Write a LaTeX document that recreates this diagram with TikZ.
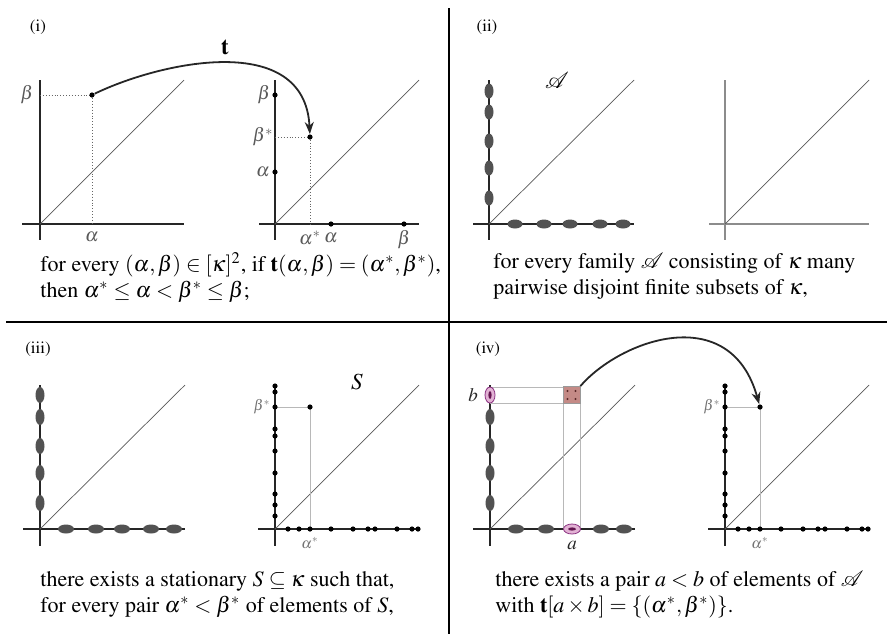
\documentclass[tikz,border=0pt]{standalone}
\usepackage[T1]{fontenc}
\IfFileExists{newtxmath.sty}{\usepackage{newtxmath}}{\usepackage{mathptmx}}
\renewcommand{\rmdefault}{ptm}
\usetikzlibrary{arrows.meta}
\definecolor{pinkfill}{RGB}{226,178,212}
\definecolor{plum}{RGB}{140,50,130}
\definecolor{plumdark}{RGB}{100,20,80}
\definecolor{rosy}{RGB}{196,138,134}
\definecolor{rosydot}{RGB}{90,40,40}

\begin{document}
\begin{tikzpicture}[
  x=0.5pt,y=-0.5pt,
  axis/.style={line width=0.75pt,black!85},
  axisgray/.style={line width=0.75pt,black!45},
  diag/.style={line width=0.35pt,black!65},
  guide/.style={line width=0.45pt,black!60,densely dotted},
  proj/.style={line width=0.45pt,black!28},
  divider/.style={line width=0.8pt,black},
  blob/.style={fill=black!68},
  dotpt/.style={circle,fill=black,inner sep=0pt,minimum size=2.6pt},
  mapto/.style={line width=0.9pt,black!85,-{Stealth[length=6pt,width=4.5pt]}},
  panel/.style={font=\fontsize{8.5}{10}\selectfont},
  lbl/.style={font=\fontsize{9.5}{11}\selectfont,text=black!65,inner sep=1pt},
  smlbl/.style={font=\fontsize{7.5}{9}\selectfont,text=black!55,inner sep=1pt},
  biglbl/.style={font=\fontsize{11.5}{13}\selectfont,inner sep=1pt},
  capt/.style={anchor=base west,inner sep=0pt,font=\fontsize{11}{13}\selectfont},
]
\useasboundingbox (0,0) rectangle (887,634);
\fill[white] (0,0) rectangle (887,634);

% frame of the four panels
\draw[divider] (449,8) -- (449,634);
\draw[divider] (6,322) -- (887,322);

% ============================ (i) ============================
\node[panel] (tag1) at (38,27) {(i)};

% left plot
\draw[axis] (40,80) -- (40,240);
\draw[axis] (22,224) -- (184,224);
\draw[diag] (40,224) -- (184,80);
\draw[guide] (40,95) -- (92,95) -- (92,224);
\node[dotpt] (ab) at (92,95) {};
\node[lbl] (lbeta) at (27,95) {$\beta$};
\node[lbl] (lalpha) at (92,237) {$\alpha$};

% right plot
\draw[axis] (275,80) -- (275,240);
\draw[axis] (259,224) -- (419,224);
\draw[diag] (275,224) -- (419,80);
\draw[guide] (275,137) -- (310,137) -- (310,224);
\node[dotpt] (yb) at (275,95) {};
\node[dotpt] (ya) at (275,172) {};
\node[dotpt] (xa) at (331,224) {};
\node[dotpt] (xb) at (404,224) {};
\node[dotpt] (abstar) at (310,137) {};
\node[lbl] (rbeta) at (264,95) {$\beta$};
\node[lbl] (rbstar) at (263,137) {$\beta^*$};
\node[lbl] (ralpha) at (263,172) {$\alpha$};
\node[lbl] (rastar) at (310,238) {$\alpha^*$};
\node[lbl] (rxalpha) at (331,238) {$\alpha$};
\node[lbl] (rxbeta) at (404,240) {$\beta$};

% the map t
\draw[mapto] (ab) .. controls (160,62) and (305,30) .. (abstar);
\node[biglbl] (tname) at (225,47) {$\mathbf{t}$};

\node[capt] (cap1a) at (40,271)
  {for every $(\alpha,\beta)\in[\kappa]^2$, if $\mathbf{t}(\alpha,\beta)=(\alpha^*,\beta^*)$,};
\node[capt] (cap1b) at (40,297)
  {then $\alpha^*\le\alpha<\beta^*\le\beta$;};

% ============================ (ii) ============================
\node[panel] (tag2) at (487,27) {(ii)};

% left plot: the family A
\draw[axis] (489,80) -- (489,240);
\draw[axis] (473,224) -- (634,224);
\draw[diag] (489,224) -- (634,80);
\foreach \d in {26,56,83,112,133}{
  \fill[blob] (489,224-\d) ellipse [x radius=4.5,y radius=7.5];
}
\foreach \d in {26,55,81,111,134}{
  \fill[blob] (489+\d,224) ellipse [x radius=7.5,y radius=4.5];
}
\node[biglbl] (famA) at (557,80) {$\mathcal{A}$};

% right plot
\draw[axisgray] (725,80) -- (725,240);
\draw[axisgray] (709,224) -- (869,224);
\draw[diag] (725,224) -- (869,80);

\node[capt] (cap2a) at (493,268)
  {for every family $\mathcal{A}$ consisting of $\kappa$ many};
\node[capt] (cap2b) at (493,294)
  {pairwise disjoint finite subsets of $\kappa$,};

% ============================ (iii) ============================
\node[panel] (tag3) at (38,349) {(iii)};

% left plot
\draw[axis] (40,385) -- (40,546);
\draw[axis] (23,529) -- (185,529);
\draw[diag] (40,529) -- (185,385);
\foreach \d in {26,56,83,112,134}{
  \fill[blob] (40,529-\d) ellipse [x radius=4.5,y radius=8];
}
\foreach \d in {26,56,82,111,134}{
  \fill[blob] (40+\d,529) ellipse [x radius=8,y radius=4.5];
}

% right plot: the set S
\draw[axis] (275,385) -- (275,546);
\draw[axis] (258,529) -- (420,529);
\draw[diag] (275,529) -- (419,385);
\draw[proj] (275,407) -- (310,407) -- (310,529);
\foreach \d in {13,24,35,56,78,93,100,122,137,143}{
  \node[dotpt] (sy\d) at (275,529-\d) {};
  \node[dotpt] (sx\d) at (275+\d,529) {};
}
\node[dotpt] (spair) at (310,407) {};
\node[smlbl] (sbstar) at (262,407) {$\beta^*$};
\node[smlbl] (sastar) at (310,543) {$\alpha^*$};
\node[biglbl] (setS) at (357,382) {$S$};

\node[capt] (cap3a) at (40,586)
  {there exists a stationary $S\subseteq\kappa$ such that,};
\node[capt] (cap3b) at (40,612)
  {for every pair $\alpha^*<\beta^*$ of elements of $S$,};

% ============================ (iv) ============================
\node[panel] (tag4) at (488,349) {(iv)};

% left plot
\draw[axis] (490,385) -- (490,546);
\draw[axis] (473,529) -- (635,529);
\draw[diag] (490,529) -- (635,385);
\draw[proj] (490,387) -- (563,387) (490,403) -- (563,403);
\draw[proj] (563,403) -- (563,529) (580,403) -- (580,529);
\foreach \d in {26,56,83,112}{
  \fill[blob] (490,529-\d) ellipse [x radius=4.5,y radius=8];
}
\foreach \d in {26,56,111,134}{
  \fill[blob] (490+\d,529) ellipse [x radius=8,y radius=4.5];
}
% the chosen pair a < b
\filldraw[fill=pinkfill,draw=plum,line width=0.4pt] (490,395) ellipse [x radius=5,y radius=8];
\fill[plumdark] (490,395) ellipse [x radius=1.6,y radius=4];
\filldraw[fill=pinkfill,draw=plum,line width=0.4pt] (572,529) ellipse [x radius=8.5,y radius=5];
\fill[plumdark] (572,529) ellipse [x radius=4,y radius=1.6];
\node[lbl,text=black!85] (lb) at (473,395) {$b$};
\node[lbl,text=black!85] (la) at (572,545) {$a$};

\node[draw=black!40,fill=rosy,line width=0.4pt,minimum size=8.5pt,inner sep=0pt] (axb) at (571.5,395) {};
\foreach \dx/\dy in {-4/-4,4/-4,-4/4,4/4}{
  \fill[rosydot] (571.5+\dx,395+\dy) circle [radius=1.1];
}

% right plot
\draw[axis] (725,385) -- (725,546);
\draw[axis] (708,529) -- (870,529);
\draw[diag] (725,529) -- (869,385);
\draw[proj] (725,407) -- (760,407) -- (760,529);
\foreach \d in {13,24,35,56,78,93,100,122,137,143}{
  \node[dotpt] (ty\d) at (725,529-\d) {};
  \node[dotpt] (tx\d) at (725+\d,529) {};
}
\node[dotpt] (tpair) at (760,407) {};
\node[smlbl] (tbstar) at (712,407) {$\beta^*$};
\node[smlbl] (tastar) at (760,543) {$\alpha^*$};

\draw[mapto] (axb.north east) .. controls (620,340) and (730,300) .. (tpair);

\node[capt] (cap4a) at (495,586)
  {there exists a pair $a<b$ of elements of $\mathcal{A}$};
\node[capt] (cap4b) at (495,612)
  {with $\mathbf{t}[a\times b]=\{(\alpha^*,\beta^*)\}$.};

\end{tikzpicture}
\end{document}
